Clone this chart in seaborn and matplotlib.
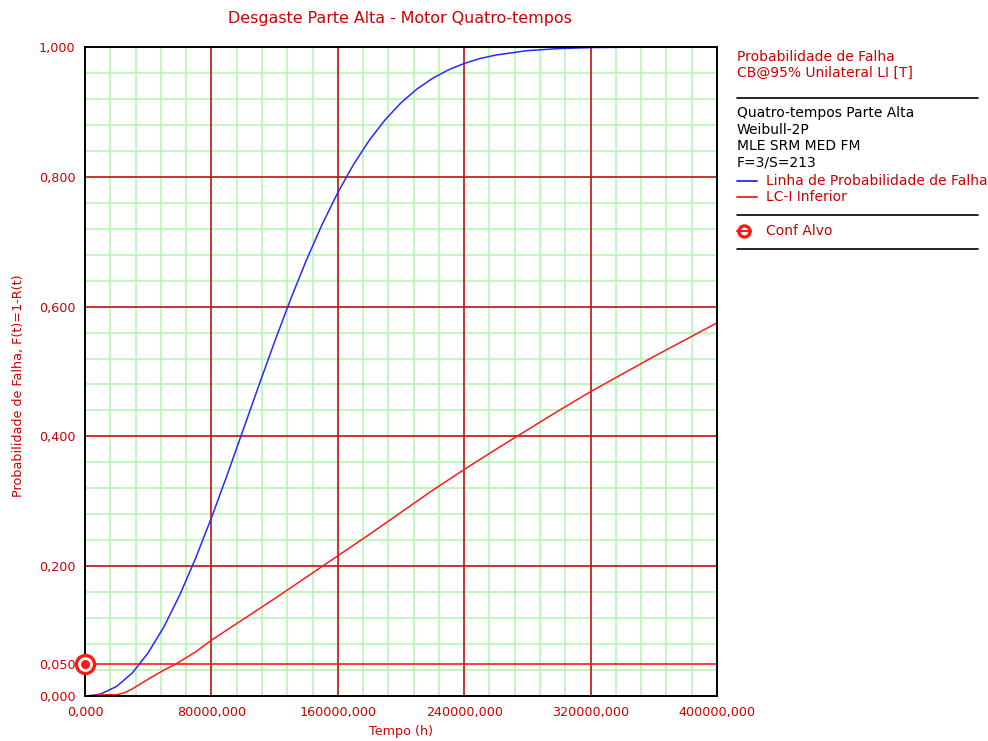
import matplotlib
matplotlib.use("Agg")
import matplotlib.pyplot as plt
from matplotlib.lines import Line2D
from matplotlib.ticker import MultipleLocator, FixedLocator
import seaborn as sns
import pandas as pd

# ---------------- data ----------------
title = "Desgaste Parte Alta - Motor Quatro-tempos"
x_label = "Tempo (h)"
y_label = "Probabilidade de Falha, F(t)=1-R(t)"

# time in hours
blue_t = [0, 5e6, 10e6, 20e6, 30e6, 40e6, 50e6, 60e6, 70e6, 80e6, 90e6, 100e6,
          110e6, 120e6, 130e6, 140e6, 150e6, 160e6, 170e6, 180e6, 190e6, 200e6,
          210e6, 220e6, 230e6, 240e6, 250e6, 260e6, 280e6, 300e6, 320e6, 350e6, 400e6]
blue_f = [0.0, 0.0008, 0.0032, 0.0147, 0.0357, 0.0666, 0.1068, 0.1558, 0.2122, 0.2745,
          0.3408, 0.4094, 0.4783, 0.5458, 0.6105, 0.6709, 0.7262, 0.7757, 0.8192,
          0.8566, 0.8880, 0.9140, 0.9351, 0.9517, 0.9648, 0.9747, 0.9822, 0.9876,
          0.9944, 0.9976, 0.9991, 0.9998, 1.0]

red_t = [0, 5e6, 15e6, 20e6, 25e6, 30e6, 40e6, 50e6, 58e6, 70e6, 80e6, 100e6, 120e6,
         140e6, 160e6, 180e6, 200e6, 220e6, 240e6, 260e6, 280e6, 300e6, 320e6,
         340e6, 360e6, 380e6, 400e6]
red_f = [0.0, 0.001, 0.002, 0.002, 0.005, 0.011, 0.026, 0.040, 0.050, 0.068, 0.086,
         0.118, 0.150, 0.183, 0.216, 0.249, 0.283, 0.317, 0.349, 0.380, 0.410,
         0.440, 0.469, 0.496, 0.523, 0.549, 0.575]

target_t = [0.0]
target_f = [0.05]

x_major = [0, 80e6, 160e6, 240e6, 320e6, 400e6]
x_major_labels = ["0,000", "80000,000", "160000,000", "240000,000", "320000,000", "400000,000"]
y_major = [0.0, 0.05, 0.2, 0.4, 0.6, 0.8, 1.0]
y_major_labels = ["0,000", "0,050", "0,200", "0,400", "0,600", "0,800", "1,000"]

legend_header = ["Probabilidade de Falha", "CB@95% Unilateral LI [T]"]
legend_info = ["Quatro-tempos Parte Alta", "Weibull-2P", "MLE SRM MED FM", "F=3/S=213"]
series_names = ["Linha de Probabilidade de Falha", "LC-I Inferior"]
target_name = "Conf Alvo"

# ---------------- styling ----------------
sns.set_style("white")
plt.rcParams["font.family"] = ["DejaVu Sans"]
FS_TICK = 9.2
FS_LEG = 10
FS_LAB = 9.2
TXT_RED = "#cc0000"
GRID_RED = "#c01010"
GREEN = "#b0f5b0"
BLUE = "#2828ff"
RED = "#ff1a1a"

W, H = 988, 741
fig = plt.figure(figsize=(W / 100, H / 100), dpi=100)
fig.patch.set_facecolor("white")
ax = fig.add_axes([85 / W, 1 - 696 / H, (717 - 85) / W, (696 - 47) / H])

df_blue = pd.DataFrame({"t": blue_t, "F": blue_f})
df_red = pd.DataFrame({"t": red_t, "F": red_f})

# grid
ax.xaxis.set_minor_locator(MultipleLocator(16e6))
ax.yaxis.set_minor_locator(MultipleLocator(0.04))
ax.grid(which="minor", color=GREEN, linewidth=1.1, zorder=0.3)
ax.grid(which="major", visible=False)
for xv in x_major[1:-1]:
    ax.axvline(xv, color=GRID_RED, linewidth=1.2, zorder=0.6)
for yv in y_major[1:-1]:
    c = RED if abs(yv - 0.05) < 1e-9 else GRID_RED
    ax.axhline(yv, color=c, linewidth=1.2, zorder=0.6)

sns.lineplot(data=df_blue, x="t", y="F", ax=ax, color=BLUE, linewidth=1.1,
             zorder=3, estimator=None, sort=False)
sns.lineplot(data=df_red, x="t", y="F", ax=ax, color=RED, linewidth=1.1,
             zorder=3, estimator=None, sort=False)

# target marker
ax.scatter(target_t, target_f, s=170, facecolors="white", edgecolors=RED,
           linewidths=2.4, zorder=5, clip_on=False)
ax.scatter(target_t, target_f, s=30, color=RED, zorder=6, clip_on=False)

ax.set_xlim(0, 400e6)
ax.set_ylim(0, 1.0)
ax.xaxis.set_major_locator(FixedLocator(x_major))
ax.yaxis.set_major_locator(FixedLocator(y_major))
ax.set_xticklabels(x_major_labels)
ax.set_yticklabels(y_major_labels)
ax.tick_params(which="major", direction="out", length=5, width=1.2,
               colors=GRID_RED, labelcolor=TXT_RED, labelsize=FS_TICK, pad=2)
ax.tick_params(which="minor", length=0)
ax.tick_params(axis="x", colors="#222222", labelcolor=TXT_RED)
for s in ax.spines.values():
    s.set_visible(True)
    s.set_color("black")
    s.set_linewidth(1.4)
    s.set_zorder(4)

ax.set_xlabel(x_label, color=TXT_RED, fontsize=FS_LAB)
ax.set_ylabel(y_label, color=TXT_RED, fontsize=FS_LAB)
ax.xaxis.label.set_verticalalignment("center")
ax.yaxis.label.set_verticalalignment("center")
ax.yaxis.label.set_horizontalalignment("center")
ax.xaxis.set_label_coords((401 - 85) / (717 - 85), -(731 - 696) / (696 - 47))
ax.yaxis.set_label_coords(-(85 - 19) / (717 - 85), (696 - 386) / (696 - 47))

fig.text(400 / W, 1 - 19 / H, title, color=TXT_RED, fontsize=11.4,
         ha="center", va="center")

# legend panel on the right
def fy(py):
    return 1 - py / H

lx = 737 / W
for i, s in enumerate(legend_header):
    fig.text(lx, fy(57 + 16 * i), s, color=TXT_RED, fontsize=FS_LEG, va="center")
fig.add_artist(Line2D([737 / W, 978 / W], [fy(98), fy(98)], color="black", linewidth=1.2))
for i, s in enumerate(legend_info):
    fig.text(lx, fy(113 + 16.5 * i), s, color="black", fontsize=FS_LEG, va="center")
for i, (name, col) in enumerate(zip(series_names, [BLUE, RED])):
    yy = fy(181 + 16 * i)
    fig.add_artist(Line2D([737 / W, 757 / W], [yy, yy], color=col, linewidth=1.3))
    fig.text(766 / W, yy, name, color=TXT_RED, fontsize=FS_LEG, va="center")
fig.add_artist(Line2D([737 / W, 978 / W], [fy(215), fy(215)], color="black", linewidth=1.2))
fig.add_artist(Line2D([744 / W], [fy(231)], marker="o", markersize=8,
                      markerfacecolor="white", markeredgecolor=RED, markeredgewidth=2.4,
                      linestyle="none"))
fig.add_artist(Line2D([737 / W, 751 / W], [fy(231), fy(231)], color=RED, linewidth=1.5))
fig.text(766 / W, fy(231), target_name, color=TXT_RED, fontsize=FS_LEG, va="center")
fig.add_artist(Line2D([737 / W, 978 / W], [fy(249), fy(249)], color="black", linewidth=1.2))

fig.savefig("out.png", dpi=100, facecolor="white")
